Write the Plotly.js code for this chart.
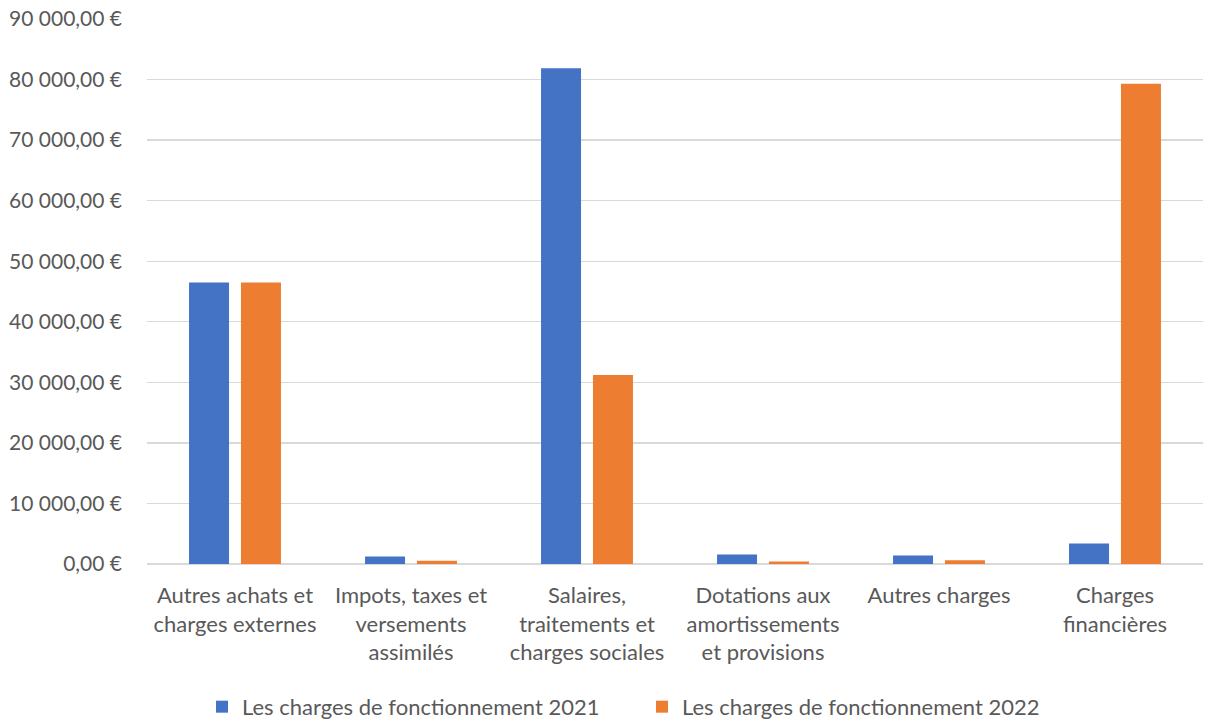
<!DOCTYPE html>
<html>
<head>
<meta charset="utf-8">
<script src="https://cdn.plot.ly/plotly-3.0.1.min.js"></script>
<style>html,body{margin:0;padding:0;background:#fff;}#chart{width:1217px;height:725px;}</style>
</head>
<body>
<div id="chart"></div>
<script>
const categories = [
  "Autres achats et<br>charges externes",
  "Impots, taxes et<br>versements<br>assimilés",
  "Salaires,<br>traitements et<br>charges sociales",
  "Dotations aux<br>amortissements<br>et provisions",
  "Autres charges",
  "Charges<br>financières"
];
const values2021 = [46470, 1240, 81850, 1570, 1400, 3380];
const values2022 = [46470, 530, 31220, 410, 630, 79300];
const seriesNames = ["Les charges de fonctionnement 2021", "Les charges de fonctionnement 2022"];

const fontFam = "Lato, 'Noto Sans', sans-serif";
const data = [
  {type: "bar", x: categories, y: values2021, name: seriesNames[0], marker: {color: "#4472C4"}, hoverinfo: "none"},
  {type: "bar", x: categories, y: values2022, name: seriesNames[1], marker: {color: "#ED7D31"}, hoverinfo: "none"}
];
const layout = {
  width: 1217, height: 725,
  margin: {l: 147, r: 14, t: 19, b: 161, autoexpand: false},
  paper_bgcolor: "#fff", plot_bgcolor: "#fff",
  separators: ", ",
  barmode: "group",
  bargap: 0.41,
  bargroupgap: 0.23,
  font: {family: fontFam, size: 21, color: "#595959"},
  xaxis: {
    automargin: false,
    tickfont: {family: fontFam, size: 22, color: "#595959"},
    showgrid: false, zeroline: false, showline: false,
    ticks: "", ticklabelstandoff: 16
  },
  yaxis: {
    automargin: false,
    range: [0, 90000], dtick: 10000,
    tickformat: ",.2f", ticksuffix: " €",
    tickfont: {family: fontFam, size: 21, color: "#595959"},
    showgrid: true, gridcolor: "#D9D9D9", gridwidth: 1.3,
    zeroline: true, zerolinecolor: "#D9D9D9", zerolinewidth: 1.3,
    showline: false, ticks: "", ticklabelstandoff: 24
  },
  showlegend: true,
  legend: {
    orientation: "h", xref: "container", x: 202/1217, xanchor: "left",
    yref: "container", y: 0.025, yanchor: "middle",
    font: {family: fontFam, size: 22, color: "#595959"},
    itemwidth: 30, entrywidth: 395, entrywidthmode: "pixels", traceorder: "normal"
  }
};
Plotly.newPlot("chart", data, layout, {displayModeBar: false, staticPlot: true});
</script>
</body>
</html>
